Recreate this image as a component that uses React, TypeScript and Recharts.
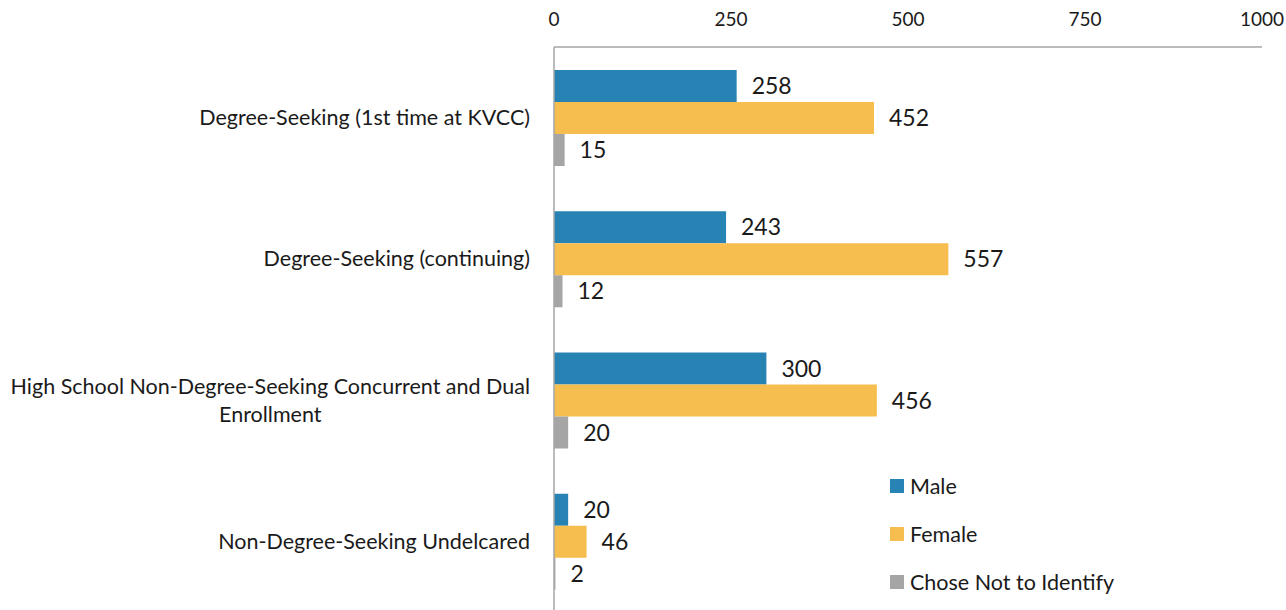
import React from "react";
import { BarChart, Bar, XAxis, YAxis, LabelList } from "recharts";

const categories = [
  "Degree-Seeking (1st time at KVCC)",
  "Degree-Seeking (continuing)",
  "High School Non-Degree-Seeking Concurrent and Dual Enrollment",
  "Non-Degree-Seeking Undelcared",
];
const male = [258, 243, 300, 20];
const female = [452, 557, 456, 46];
const notIdentify = [15, 12, 20, 2];
const xTicks = [0, 250, 500, 750, 1000];

const seriesNames = ["Male", "Female", "Chose Not to Identify"];
const colors = ["#2683B3", "#F6BE4F", "#A5A5A5"];

const data = categories.map((c, i) => ({
  name: c,
  male: male[i],
  female: female[i],
  none: notIdentify[i],
}));

const LABEL_FONT = "Lato, 'Open Sans', sans-serif";
const VALUE_FONT = "Lato, 'Noto Sans', sans-serif";
const LABEL_SIZE = 21.5;

let ctx: CanvasRenderingContext2D | null = null;
function measure(text: string): number {
  if (!ctx) {
    const c = document.createElement("canvas");
    ctx = c.getContext("2d");
  }
  if (!ctx) return text.length * LABEL_SIZE * 0.5;
  ctx.font = `${LABEL_SIZE}px Lato`;
  return ctx.measureText(text).width;
}

function wrap(text: string, maxWidth: number): string[] {
  const words = text.split(" ");
  const lines: string[] = [];
  let cur = "";
  for (const w of words) {
    const t = cur ? cur + " " + w : w;
    if (measure(t) > maxWidth && cur) {
      lines.push(cur);
      cur = w;
    } else cur = t;
  }
  if (cur) lines.push(cur);
  return lines;
}

const CategoryTick = (props: any) => {
  const { x, y, payload } = props;
  const lines = wrap(String(payload.value), 530);
  const widths = lines.map(measure);
  const maxW = Math.max(...widths);
  const lineH = 28;
  const startY = y - ((lines.length - 1) * lineH) / 2;
  const cx = x - maxW / 2;
  return (
    <g>
      {lines.map((l, i) => (
        <text
          key={i}
          x={lines.length > 1 ? cx : x}
          y={startY + i * lineH}
          dy="0.35em"
          textAnchor={lines.length > 1 ? "middle" : "end"}
          fill="#1a1a1a"
          fontSize={LABEL_SIZE}
          fontFamily={LABEL_FONT}
        >
          {l}
        </text>
      ))}
    </g>
  );
};

const LegendBox = () => (
  <div
    style={{
      position: "absolute",
      left: 890,
      top: 462,
      fontFamily: LABEL_FONT,
      fontSize: 21.5,
      color: "#1a1a1a",
    }}
  >
    {seriesNames.map((n, i) => (
      <div key={n} style={{ display: "flex", alignItems: "center", height: 48 }}>
        <span
          style={{
            display: "inline-block",
            width: 14,
            height: 14,
            background: colors[i],
            marginRight: 6,
          }}
        />
        <span>{n}</span>
      </div>
    ))}
  </div>
);

export default function App() {
  return (
    <div style={{ position: "absolute", left: 0, top: 0, width: 1286, height: 610, overflow: "hidden" }}>
      <BarChart
        width={1286}
        height={620}
        data={data}
        layout="vertical"
        margin={{ top: 0, right: 24, bottom: 8, left: 0 }}
        barCategoryGap={23}
        barGap={0}
      >
        <XAxis
          type="number"
          orientation="top"
          domain={[0, 1000]}
          ticks={xTicks}
          height={47}
          tickLine={false}
          axisLine={{ stroke: "#A6A6A6", strokeWidth: 1.5 }}
          tickMargin={15}
          tick={{ fill: "#1a1a1a", fontSize: 19, fontFamily: LABEL_FONT }}
          interval={0}
        />
        <YAxis
          type="category"
          dataKey="name"
          width={554}
          tickLine={false}
          axisLine={{ stroke: "#A6A6A6", strokeWidth: 1.5 }}
          tickMargin={18}
          tick={<CategoryTick />}
          interval={0}
        />
        <Bar dataKey="male" name={seriesNames[0]} fill={colors[0]} isAnimationActive={false}>
          <LabelList dataKey="male" position="right" offset={15} fill="#1a1a1a" fontSize={23} fontFamily={VALUE_FONT} />
        </Bar>
        <Bar dataKey="female" name={seriesNames[1]} fill={colors[1]} isAnimationActive={false}>
          <LabelList dataKey="female" position="right" offset={15} fill="#1a1a1a" fontSize={23} fontFamily={VALUE_FONT} />
        </Bar>
        <Bar dataKey="none" name={seriesNames[2]} fill={colors[2]} isAnimationActive={false}>
          <LabelList dataKey="none" position="right" offset={15} fill="#1a1a1a" fontSize={23} fontFamily={VALUE_FONT} />
        </Bar>
      </BarChart>
      <LegendBox />
    </div>
  );
}
